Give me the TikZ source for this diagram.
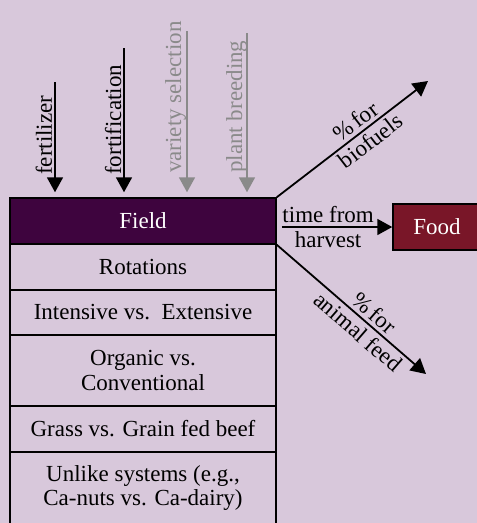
\documentclass[tikz,border=0pt]{standalone}
\usepackage{fontspec}
\setmainfont{Liberation Serif}
\usetikzlibrary{arrows.meta,calc}
\definecolor{bg}{RGB}{216,200,219}
\definecolor{fieldc}{RGB}{62,4,62}
\definecolor{foodc}{RGB}{121,22,40}
\definecolor{grayc}{RGB}{138,138,138}
\begin{document}
\begin{tikzpicture}[x=1pt,y=-1pt,
  font=\fontsize{23}{24.5}\selectfont,
  rowbox/.style={draw=black,line width=1.5pt,minimum width=266pt,inner sep=0pt,align=center,anchor=center},
  arr/.style={line width=1.8pt,-{Triangle[length=15pt,width=16pt]}},
  grayarr/.style={arr,draw=grayc},
  vlabel/.style={rotate=90,anchor=base west,inner sep=0pt},
  dlabel/.style={sloped,align=center,inner sep=0pt}
]
\fill[bg] (0,0) rectangle (477,523);
\useasboundingbox (0,0) rectangle (477,523);

% stacked rows
\node[rowbox,minimum height=46pt] (rot) at (143,267) {Rotations};
\node[rowbox,minimum height=45pt] (int) at (143,312.5) {Intensive vs.\ \ Extensive};
\node[rowbox,minimum height=71pt] (org) at (143,370.5) {Organic vs.\\Conventional};
\node[rowbox,minimum height=46pt] (grass) at (143,429) {Grass vs. Grain fed beef};
\node[rowbox,minimum height=72pt] (unlike) at (143,488) {Unlike systems (e.g.,\\Ca-nuts vs. Ca-dairy)};
\node[rowbox,minimum height=46pt,fill=fieldc,text=white] (field) at (143,221) {Field};

% food
\node[draw=black,line width=1.5pt,fill=foodc,text=white,minimum width=88pt,minimum height=46pt,inner sep=0pt] (food) at (437,227) {Food};

% inputs
\coordinate (fzS) at (55,82);
\coordinate (foS) at (124,48);
\coordinate (vaS) at (187,31);
\coordinate (plS) at (247,33);
\draw[arr] (fzS) -- ($(field.north -| fzS)+(0,-5)$);
\draw[arr] (foS) -- ($(field.north -| foS)+(0,-5)$);
\draw[grayarr] (vaS) -- ($(field.north -| vaS)+(0,-5)$);
\draw[grayarr] (plS) -- ($(field.north -| plS)+(0,-5)$);
\node[vlabel] (fzL) at (52,175) {fertilizer};
\node[vlabel] (foL) at (121,175) {fortification};
\node[vlabel,text=grayc] (vaL) at (181,173) {variety selection};
\node[vlabel,text=grayc] (plL) at (242,173) {plant breeding};

% outputs
\coordinate (bioEnd) at (428,81);
\coordinate (feedEnd) at (426,374);
\draw[arr] (field.north east) -- (bioEnd)
  node[dlabel,pos=0.57] (bioL) {\%\,for\\biofuels};
\draw[arr] (field.south east) -- (feedEnd)
  node[dlabel,pos=0.6] (feedL) {\%\,for\\animal feed};
\draw[arr] ([xshift=5pt]field.east |- food.west) -- (food.west)
  node[align=center,inner sep=0pt,pos=0.42] (timeL) {time from\\harvest};
\end{tikzpicture}
\end{document}
